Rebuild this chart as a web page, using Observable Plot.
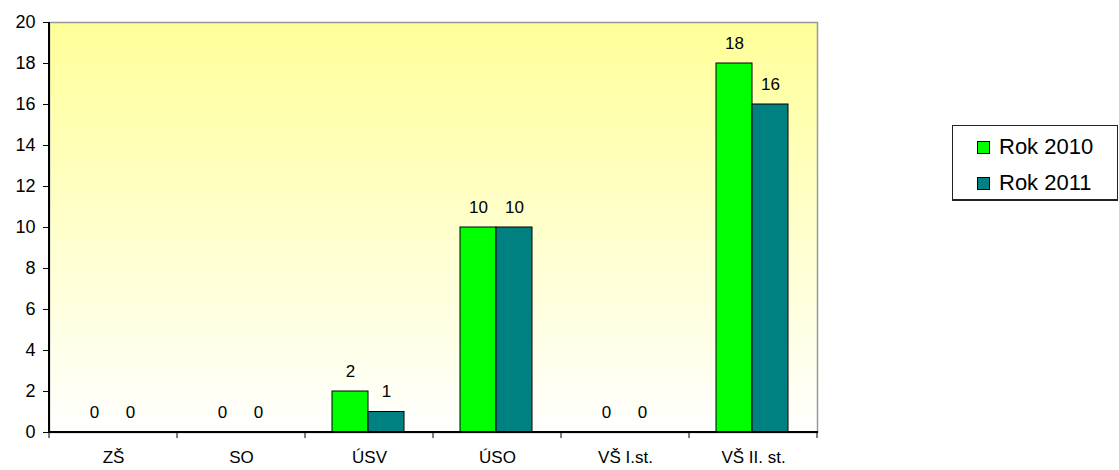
<!DOCTYPE html>
<html><head><meta charset="utf-8">
<script src="https://cdn.jsdelivr.net/npm/d3@7"></script>
<script src="https://cdn.jsdelivr.net/npm/@observablehq/plot@0.6"></script>
<style>
body{margin:0;background:#fff;font-family:"Liberation Sans",Arial,sans-serif;}
#wrap{position:relative;width:1119px;height:470px;}
#legend{position:absolute;left:952px;top:125px;width:166px;height:76px;border:1px solid #222;border-bottom-width:2px;box-sizing:border-box;background:#fff;padding:3px 0 0 24px;}
.item{display:flex;align-items:center;height:36px;font-size:22px;color:#000;}
.sw{width:13px;height:13px;border:1px solid #000;margin-right:9px;box-sizing:border-box;}
svg g[aria-label="y-axis tick label"]{font-size:18px !important;}
svg g[aria-label="x-axis tick label"]{font-size:17px !important;}
</style></head><body><div id="wrap"></div>
<script>
const categories = ["ZŠ", "SO", "ÚSV", "ÚSO", "VŠ I.st.", "VŠ II. st."];
const series = ["Rok 2010", "Rok 2011"];
const values2010 = [0, 0, 2, 10, 0, 18];
const values2011 = [0, 0, 1, 10, 0, 16];
const yTicks = [0, 2, 4, 6, 8, 10, 12, 14, 16, 18, 20];
const seriesColors = ["#00FF00", "#008080"];

const rows2010 = categories.map((c, i) => ({cat: c, series: series[0], value: values2010[i]}));
const rows2011 = categories.map((c, i) => ({cat: c, series: series[1], value: values2011[i]}));

function gradientDefs() {
  const defs = d3.create("svg:defs");
  const g = defs.append("linearGradient").attr("id", "bgGrad")
    .attr("x1", 0).attr("y1", 0).attr("x2", 0).attr("y2", 1);
  g.append("stop").attr("offset", "0%").attr("stop-color", "#FFFF99");
  g.append("stop").attr("offset", "100%").attr("stop-color", "#FFFFFF");
  return defs.node();
}

function chrome(index, scales, values, dim) {
  const g = d3.create("svg:g");
  const x = scales.x;
  const bw = x.bandwidth ? x.bandwidth() : (dim.width - dim.marginLeft - dim.marginRight) / categories.length;
  const y0 = dim.height - dim.marginBottom;
  const bounds = categories.map(c => x(c)).concat([x(categories[categories.length - 1]) + bw]);
  g.selectAll("line.t").data(bounds).join("line")
    .attr("x1", d => d).attr("x2", d => d)
    .attr("y1", y0).attr("y2", y0 + 6)
    .attr("stroke", "#000").attr("stroke-width", 1);
  g.append("line")
    .attr("x1", dim.marginLeft).attr("x2", dim.marginLeft)
    .attr("y1", dim.marginTop).attr("y2", y0 + 1)
    .attr("stroke", "#000").attr("stroke-width", 2);
  g.append("line")
    .attr("x1", dim.marginLeft).attr("x2", dim.width - dim.marginRight + 1)
    .attr("y1", y0).attr("y2", y0)
    .attr("stroke", "#000").attr("stroke-width", 2);
  return g.node();
}

const plot = Plot.plot({
  width: 1119,
  height: 470,
  marginLeft: 49,
  marginRight: 302,
  marginTop: 22,
  marginBottom: 38,
  style: {fontFamily: "Liberation Sans, Arial, sans-serif", fontSize: "17px", background: "transparent", overflow: "visible"},
  x: {type: "band", domain: categories, padding: 0, label: null},
  y: {domain: [0, 20], label: null},
  color: {domain: series, range: seriesColors},
  marks: [
    gradientDefs,
    Plot.frame({fill: "url(#bgGrad)", stroke: "#999", strokeWidth: 1.5}),
    Plot.axisY({ticks: yTicks, tickSize: 6, tickPadding: 8, label: null}),
    Plot.axisX({tickSize: 0, tickPadding: 18, label: null}),
    Plot.barY(rows2010, {x: "cat", y: "value", fill: "series", stroke: "#000", strokeWidth: 1, insetLeft: 27, insetRight: 65}),
    Plot.barY(rows2011, {x: "cat", y: "value", fill: "series", stroke: "#000", strokeWidth: 1, insetLeft: 63, insetRight: 29}),
    Plot.text(rows2010, {x: "cat", y: "value", text: d => String(d.value), dx: -19, dy: -20, fontSize: 17, fill: "#000"}),
    Plot.text(rows2011, {x: "cat", y: "value", text: d => String(d.value), dx: 17, dy: -20, fontSize: 17, fill: "#000"}),
    chrome
  ]
});

const wrap = document.getElementById("wrap");
wrap.appendChild(plot);

const legend = document.createElement("div");
legend.id = "legend";
series.forEach((s, i) => {
  const item = document.createElement("div");
  item.className = "item";
  const sw = document.createElement("span");
  sw.className = "sw";
  sw.style.background = seriesColors[i];
  const t = document.createElement("span");
  t.textContent = s;
  item.appendChild(sw);
  item.appendChild(t);
  legend.appendChild(item);
});
wrap.appendChild(legend);
</script>
</body></html>
